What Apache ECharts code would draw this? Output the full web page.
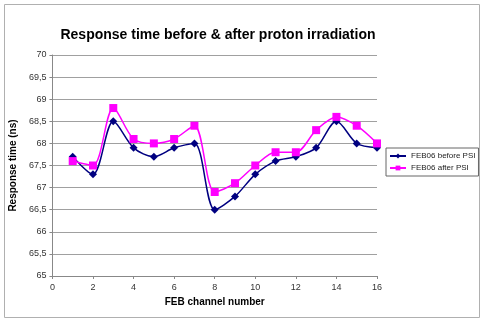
<!DOCTYPE html>
<html>
<head>
<meta charset="utf-8">
<script src="https://cdn.jsdelivr.net/npm/echarts@6/dist/echarts.min.js"></script>
<style>
  html, body { margin: 0; padding: 0; background: #fff; }
  #chart { width: 485px; height: 324px; }
</style>
</head>
<body>
<div id="chart"></div>
<script>
// 数据
var channels = [1, 2, 3, 4, 5, 6, 7, 8, 9, 10, 11, 12, 13, 14, 15, 16];
var beforePSI = [67.7, 67.3, 68.5, 67.9, 67.7, 67.9, 68.0, 66.5, 66.8, 67.3, 67.6, 67.7, 67.9, 68.5, 68.0, 67.9];
var afterPSI = [67.6, 67.5, 68.8, 68.1, 68.0, 68.1, 68.4, 66.9, 67.1, 67.5, 67.8, 67.8, 68.3, 68.6, 68.4, 68.0];
var seriesNames = ["FEB06 before PSI", "FEB06 after PSI"];

function pairs(ys) {
  return channels.map(function (x, i) { return [x, ys[i]]; });
}

var font = "Liberation Sans, Arial, sans-serif";
var chart = echarts.init(document.getElementById("chart"));

var option = {
  animation: false,
  textStyle: { fontFamily: font },
  title: {
    text: "Response time before & after proton irradiation",
    left: 213,
    textAlign: "center",
    top: 23,
    textStyle: { fontSize: 14, fontWeight: "bold", color: "#000", fontFamily: font }
  },
  graphic: [{
    type: "rect",
    shape: { x: 4.5, y: 4.5, width: 475, height: 313 },
    style: { fill: "none", stroke: "#b0b0b0", lineWidth: 1 },
    silent: true
  }],
  legend: {
    orient: "vertical",
    left: 386,
    top: 148,
    itemWidth: 16,
    itemHeight: 6,
    itemGap: 4,
    padding: [4, 3, 4, 3],
    borderColor: "#666",
    borderWidth: 1,
    borderRadius: 0,
    textStyle: { fontSize: 8, color: "#222", fontFamily: font },
    data: seriesNames
  },
  grid: { left: 50, right: 108, top: 55, bottom: 48 },
  xAxis: {
    type: "value",
    min: 0,
    max: 16,
    interval: 2,
    name: "FEB channel number",
    nameLocation: "middle",
    nameGap: 20,
    nameTextStyle: { fontSize: 10, fontWeight: "bold", color: "#000", fontFamily: font },
    axisLine: { lineStyle: { color: "#888" } },
    axisTick: { show: true, length: 3, lineStyle: { color: "#888" } },
    axisLabel: { fontSize: 9, color: "#333", margin: 7 },
    splitLine: { show: false }
  },
  yAxis: {
    type: "value",
    min: 65,
    max: 70,
    interval: 0.5,
    name: "Response time (ns)",
    nameLocation: "middle",
    nameGap: 30,
    nameTextStyle: { fontSize: 10, fontWeight: "bold", color: "#000", fontFamily: font },
    axisLine: { show: true, lineStyle: { color: "#888" } },
    axisTick: { show: true, length: 3, lineStyle: { color: "#888" } },
    axisLabel: {
      fontSize: 9, color: "#333", margin: 6,
      formatter: function (v) { return String(v).replace(".", ","); }
    },
    splitLine: { show: true, lineStyle: { color: "#a0a0a0", width: 1 } }
  },
  series: [
    {
      name: seriesNames[0],
      type: "line",
      smooth: 0.3,
      data: pairs(beforePSI),
      symbol: "diamond",
      symbolSize: 8,
      itemStyle: { color: "#000080" },
      lineStyle: { color: "#000080", width: 1.5 }
    },
    {
      name: seriesNames[1],
      type: "line",
      smooth: 0.3,
      data: pairs(afterPSI),
      symbol: "rect",
      symbolSize: 8,
      itemStyle: { color: "#ff00ff" },
      lineStyle: { color: "#ff00ff", width: 1.5 }
    }
  ]
};
chart.setOption(option);
</script>
</body>
</html>
